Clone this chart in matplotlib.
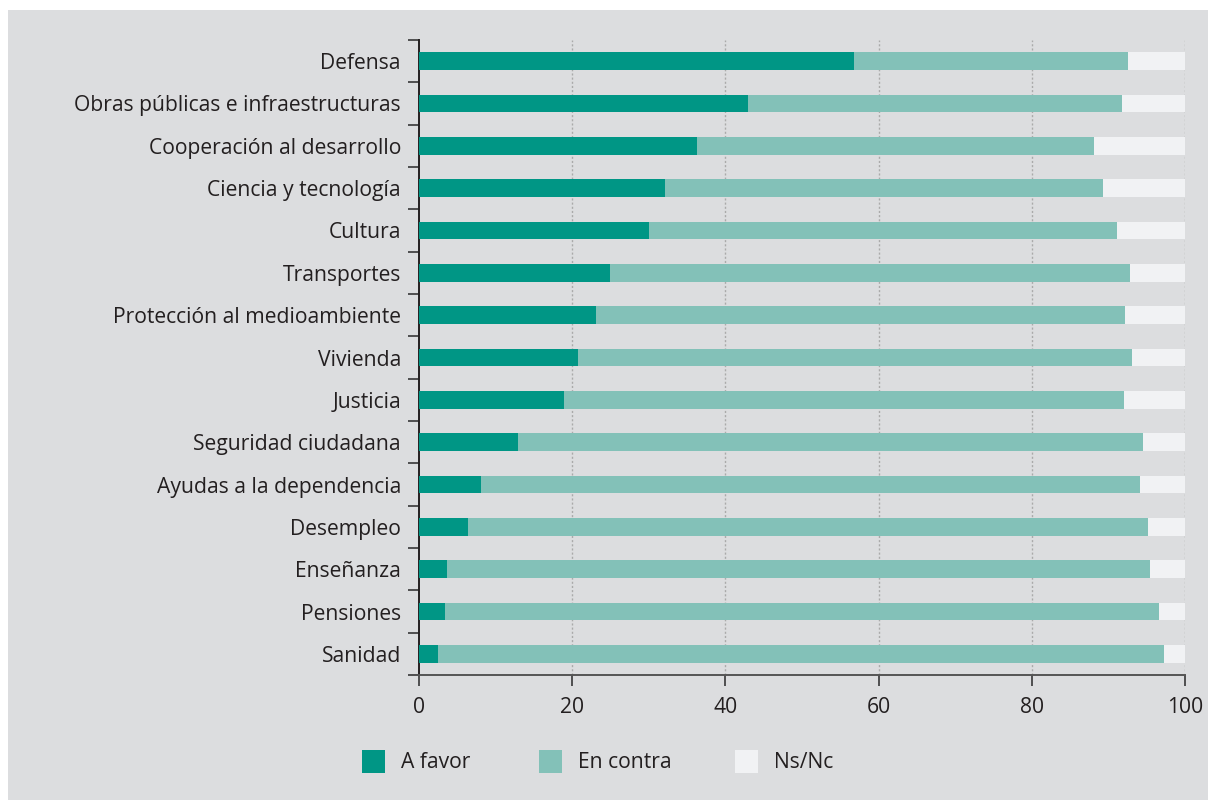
import matplotlib
matplotlib.use('Agg')
import numpy as np
import matplotlib.pyplot as plt
from matplotlib.patches import Rectangle

categories = ['Defensa', 'Obras públicas e infraestructuras', 'Cooperación al desarrollo',
              'Ciencia y tecnología', 'Cultura', 'Transportes', 'Protección al medioambiente',
              'Vivienda', 'Justicia', 'Seguridad ciudadana', 'Ayudas a la dependencia',
              'Desempleo', 'Enseñanza', 'Pensiones', 'Sanidad']
a_favor = [56.8, 42.9, 36.3, 32.1, 30.0, 24.9, 23.1, 20.8, 18.9, 12.9, 8.1, 6.4, 3.7, 3.4, 2.5]
en_contra = [35.8, 48.9, 51.8, 57.2, 61.1, 67.9, 69.1, 72.3, 73.1, 81.6, 86.0, 88.8, 91.7, 93.2, 94.8]
ns_nc = [7.4, 8.2, 11.9, 10.7, 8.9, 7.2, 7.8, 6.9, 8.0, 5.5, 5.9, 4.8, 4.6, 3.4, 2.7]
series_names = ['A favor', 'En contra', 'Ns/Nc']
xticks = [0, 20, 40, 60, 80, 100]

colors = ['#009685', '#83c1b8', '#f1f2f4']
bg = '#dcdddf'
txt = '#231f20'
W, H = 1208, 800

plt.rcParams['font.family'] = ['Open Sans', 'DejaVu Sans']

fig = plt.figure(figsize=(W / 100, H / 100), dpi=100, facecolor='white')
fig.patches.append(Rectangle((8 / W, -0.01), 1, 1 - 10 / H + 0.01, transform=fig.transFigure,
                             facecolor=bg, edgecolor='none', zorder=-10))

ax = fig.add_axes([419 / W, 1 - 675 / H, (1185 - 419) / W, (675 - 40) / H])
ax.set_facecolor(bg)

y = np.arange(len(categories))
left = np.zeros(len(categories))
for vals, name, c in zip([a_favor, en_contra, ns_nc], series_names, colors):
    ax.barh(y, vals, left=left, height=0.42, color=c, label=name, zorder=3)
    left = left + np.array(vals)

ax.set_xlim(0, 100)
ax.set_ylim(len(categories) - 0.5, -0.5)

ax.set_yticks(y)
ax.set_yticklabels(categories)
ax.set_yticks(np.arange(-0.5, len(categories), 1.0), minor=True)
ax.tick_params(axis='y', which='major', length=0, pad=13, labelsize=15.2, labelcolor=txt)
ax.tick_params(axis='y', which='minor', length=8, width=1.3, color='#444444')

ax.set_xticks(xticks)
ax.tick_params(axis='x', which='major', length=8, width=1.3, color='#444444', pad=8,
               labelsize=15.2, labelcolor=txt)

for xv in xticks[1:]:
    ax.axvline(xv, color='#aaaaaa', linestyle=(0, (1.5, 1.5)), linewidth=1.0, zorder=1)

for s in ['top', 'right']:
    ax.spines[s].set_visible(False)
ax.spines['left'].set_color(txt)
ax.spines['left'].set_linewidth(1.4)
ax.spines['bottom'].set_color('#555555')
ax.spines['bottom'].set_linewidth(1.4)

# legend drawn by hand so the squares sit where the original has them
legend_x = [362, 539, 735]
for lx, name, c in zip(legend_x, series_names, colors):
    fig.patches.append(Rectangle((lx / W, 1 - 773 / H), 23 / W, 23 / H,
                                 transform=fig.transFigure, facecolor=c, edgecolor='none'))
    fig.text((lx + 39) / W, 1 - 762 / H, name, fontsize=15.2, color=txt, va='center', ha='left')

fig.savefig('out.png', dpi=100, facecolor='white')
